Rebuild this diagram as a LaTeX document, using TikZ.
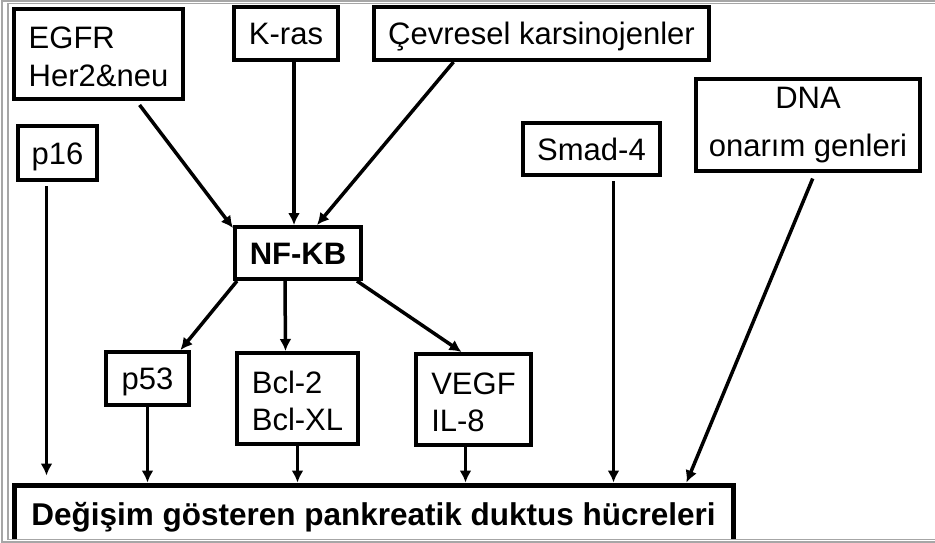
\documentclass[tikz,border=0pt]{standalone}
\usepackage{fontspec}
\setmainfont{Liberation Sans}
\usepackage{tikz}
\usetikzlibrary{arrows.meta,%
                shapes,positioning}
\newcommand\fs{\fontsize{31}{37.5}\selectfont}
\newcommand\tallrow{\rule{0pt}{27pt}}

\begin{document}
\begin{tikzpicture}[x=1pt,y=-1pt,
  box/.style={draw, line width=4pt, inner sep=0pt, align=left, font=\fs},
  one/.style={text height=22pt, text depth=0pt},
  arr/.style={line width=3.5pt, -{Latex[length=12pt,width=12pt]}},
  frame/.style={draw=gray!70, line width=1.2pt}]
\useasboundingbox (0,0) rectangle (935,543);
\node[box, minimum width=169, minimum height=90] (egfr) at (98.5,54) {\tallrow EGFR\\Her2\&neu};
\node[box, one, minimum width=104, minimum height=53] (kras) at (286,33.5) {K-ras};
\node[box, one, minimum width=335, minimum height=53] (cevre) at (541.5,33.5) {Çevresel karsinojenler};
\node[box, one, minimum width=79, minimum height=54] (p16) at (57.5,153) {p16};
\node[box, one, minimum width=137, minimum height=52] (smad) at (591.5,149) {Smad-4};
\node[box, minimum width=224, minimum height=92, align=center] (dna) at (808,125) {DNA\\[10pt]onarım genleri};
\node[box, one, minimum width=126, minimum height=52, font=\fs\bfseries] (nfkb) at (298,253) {NF-KB};
\node[box, one, minimum width=83, minimum height=53] (p53) at (147.5,378.5) {p53};
\node[box, minimum width=121, minimum height=91] (bcl) at (297.5,398.5) {\tallrow Bcl-2\\Bcl-XL};
\node[box, minimum width=115, minimum height=91] (vegf) at (473.5,399.5) {\tallrow VEGF\\IL-8};
\begin{scope}
\clip (0,0) rectangle (935,538);
\node[box, one, line width=5pt, minimum width=719, minimum height=58, font=\fontsize{31.5}{37}\selectfont\bfseries] (bot) at (373.5,514) {Değişim gösteren pankreatik duktus hücreleri};
\end{scope}
\draw[arr, shorten <=5pt] (egfr.-51) -- ([yshift=-3]nfkb.north west);
\draw[arr] ([xshift=8]kras.south) -- ([xshift=-4]nfkb.north);
\draw[arr] ([xshift=-88]cevre.south) -- ([xshift=19]nfkb.north);
\draw[arr] ([xshift=4]nfkb.south west) -- ([xshift=33]p53.north);
\draw[arr] ([xshift=-13]nfkb.south) -- ([xshift=-12]bcl.north);
\draw[arr] ([xshift=-6]nfkb.south east) -- ([xshift=-12]vegf.north);
\draw[arr, shorten <=4pt, shorten >=7pt] ([xshift=-11]p16.south) -- ([xshift=-327]bot.north);
\draw[arr] (p53.south) -- ([xshift=-226]bot.north);
\draw[arr] (bcl.south) -- ([xshift=-76]bot.north);
\draw[arr] ([xshift=-8]vegf.south) -- ([xshift=92]bot.north);
\draw[arr, shorten <=4pt] ([xshift=22]smad.south) -- ([xshift=240]bot.north);
\draw[arr, shorten <=6pt] ([xshift=7]dna.south) -- ([xshift=313]bot.north);
\draw[frame] (2,1) rectangle (960,542);
\draw[frame] (8,3.5) rectangle (955,539.5);
\end{tikzpicture}
\end{document}
